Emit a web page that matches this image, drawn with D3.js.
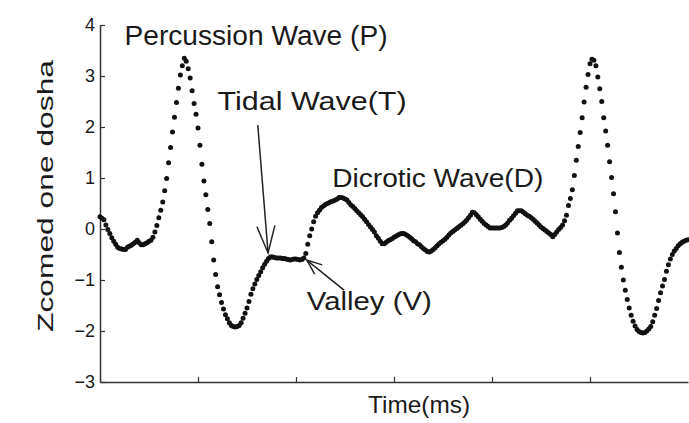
<!DOCTYPE html>
<html>
<head>
<meta charset="utf-8">
<script src="https://cdn.jsdelivr.net/npm/d3@7"></script>
<style>
  body { margin: 0; background: #fff; }
  svg { display: block; }
  text { font-family: "Liberation Sans", Arial, sans-serif; fill: #1a1a1a; }
</style>
</head>
<body>
<div id="chart"></div>
<script>
// sampled pulse, one value every 2 ms
const sampleMs = 2;
const pulse = [
  0.24, 0.21, 0.18, 0.08, -0.01, -0.09, -0.17, -0.24, -0.30, -0.36,
  -0.38, -0.39, -0.40, -0.40, -0.36, -0.34, -0.32, -0.29, -0.26, -0.22,
  -0.27, -0.31, -0.31, -0.29, -0.27, -0.24, -0.22, -0.16, -0.06, 0.07,
  0.22, 0.37, 0.53, 0.75, 0.99, 1.30, 1.60, 1.90, 2.19, 2.48,
  2.76, 3.02, 3.20, 3.35, 3.29, 3.14, 2.96, 2.71, 2.46, 2.25,
  1.98, 1.64, 1.27, 0.94, 0.67, 0.38, 0.11, -0.25, -0.61, -0.89,
  -1.13, -1.29, -1.44, -1.57, -1.68, -1.76, -1.84, -1.89, -1.91, -1.92,
  -1.91, -1.89, -1.84, -1.75, -1.65, -1.55, -1.42, -1.28, -1.17, -1.08,
  -0.99, -0.91, -0.84, -0.76, -0.69, -0.63, -0.58, -0.55, -0.55, -0.56,
  -0.57, -0.57, -0.57, -0.58, -0.58, -0.59, -0.60, -0.61, -0.60, -0.59,
  -0.59, -0.60, -0.61, -0.60, -0.57, -0.48, -0.30, -0.13, 0.00, 0.14,
  0.25, 0.32, 0.37, 0.42, 0.45, 0.48, 0.50, 0.52, 0.54, 0.55,
  0.57, 0.59, 0.62, 0.62, 0.61, 0.59, 0.57, 0.52, 0.47, 0.44,
  0.40, 0.36, 0.32, 0.28, 0.24, 0.19, 0.14, 0.09, 0.04, -0.01,
  -0.06, -0.13, -0.18, -0.24, -0.29, -0.29, -0.26, -0.23, -0.21, -0.19,
  -0.16, -0.14, -0.12, -0.10, -0.09, -0.09, -0.11, -0.13, -0.16, -0.19,
  -0.23, -0.25, -0.29, -0.31, -0.35, -0.38, -0.41, -0.44, -0.45, -0.43,
  -0.40, -0.37, -0.33, -0.29, -0.26, -0.23, -0.20, -0.16, -0.12, -0.08,
  -0.05, -0.02, 0.01, 0.04, 0.07, 0.10, 0.13, 0.17, 0.22, 0.27,
  0.33, 0.32, 0.28, 0.24, 0.19, 0.15, 0.11, 0.08, 0.05, 0.02,
  0.02, 0.02, 0.02, 0.02, 0.02, 0.03, 0.05, 0.08, 0.12, 0.17,
  0.21, 0.26, 0.31, 0.36, 0.36, 0.36, 0.33, 0.30, 0.27, 0.25,
  0.22, 0.19, 0.15, 0.12, 0.08, 0.04, 0.01, -0.02, -0.05, -0.08,
  -0.11, -0.15, -0.11, -0.06, -0.01, 0.03, 0.08, 0.16, 0.27, 0.46,
  0.60, 0.77, 1.05, 1.35, 1.62, 1.89, 2.18, 2.49, 2.78, 3.03,
  3.24, 3.33, 3.31, 3.20, 2.98, 2.75, 2.50, 2.18, 1.92, 1.64,
  1.32, 1.01, 0.69, 0.34, -0.08, -0.46, -0.75, -1.00, -1.20, -1.38,
  -1.55, -1.69, -1.81, -1.90, -1.97, -2.01, -2.03, -2.04, -2.03, -2.00,
  -1.96, -1.91, -1.82, -1.69, -1.56, -1.40, -1.25, -1.12, -0.99, -0.83,
  -0.70, -0.59, -0.50, -0.43, -0.38, -0.33, -0.29, -0.26, -0.24, -0.22,
  -0.21
];
const yTicks = [-3, -2, -1, 0, 1, 2, 3, 4];
const xTicks = [0, 100, 200, 300, 400, 500, 600];

// annotation anchors in data units (ms, value)
const notes = [
  { text: 'Percussion Wave (P)', t: 25, v: 3.61 },
  { text: 'Tidal Wave(T)', t: 120, v: 2.33 },
  { text: 'Dicrotic Wave(D)', t: 237, v: 0.82 },
  { text: 'Valley (V)', t: 211, v: -1.59 }
];
const arrows = [
  { name: 'tidal', from: [161, 2.04], to: [171.5, -0.47] },
  { name: 'valley', from: [249, -1.20], to: [211, -0.61] }
];

const width = 689, height = 423;
const svg = d3.select('#chart').append('svg')
    .attr('width', width)
    .attr('height', height);

const x = d3.scaleLinear().domain([0, 600]).range([100, 688]);
const y = d3.scaleLinear().domain([-3, 4]).range([382, 25]);

// axes
const yAxis = svg.append('g')
    .attr('transform', `translate(${x(0)},0)`)
    .call(d3.axisLeft(y).tickValues(yTicks).tickFormat(d3.format('d'))
        .tickSizeInner(-5).tickSizeOuter(0).tickPadding(5));
const xAxis = svg.append('g')
    .attr('transform', `translate(0,${y(-3)})`)
    .call(d3.axisBottom(x).tickValues(xTicks).tickFormat('')
        .tickSizeInner(-5).tickSizeOuter(0));

[yAxis, xAxis].forEach(a => {
    a.select('.domain').attr('stroke', '#333').attr('stroke-width', 1.5);
    a.selectAll('.tick line').attr('stroke', '#333').attr('stroke-width', 1.2);
});
yAxis.selectAll('.tick text')
    .style('font-family', '"Liberation Sans", Arial, sans-serif')
    .style('font-size', '18px')
    .attr('fill', '#1a1a1a');
xAxis.selectAll('.tick').filter(d => d === 0 || d === 600).select('line').remove();

// axis titles
svg.append('text')
    .attr('transform', 'translate(53,196) rotate(-90)')
    .attr('text-anchor', 'middle')
    .attr('font-size', 22)
    .attr('textLength', 272)
    .attr('lengthAdjust', 'spacingAndGlyphs')
    .text('Zcomed one dosha');

svg.append('text')
    .attr('x', 419)
    .attr('y', 413)
    .attr('text-anchor', 'middle')
    .attr('font-size', 24)
    .attr('textLength', 102)
    .attr('lengthAdjust', 'spacingAndGlyphs')
    .text('Time(ms)');

// the waveform, drawn as sample dots
svg.append('g')
    .selectAll('circle')
    .data(pulse)
    .join('circle')
    .attr('cx', (d, i) => x(i * sampleMs))
    .attr('cy', d => y(d))
    .attr('r', 2.5)
    .attr('fill', '#111');

// annotation text
const noteStyle = {
    'Percussion Wave (P)': { size: 27, len: 263 },
    'Tidal Wave(T)': { size: 26, len: 189 },
    'Dicrotic Wave(D)': { size: 26, len: 211 },
    'Valley (V)': { size: 26, len: 125 }
};
svg.append('g')
    .selectAll('text')
    .data(notes)
    .join('text')
    .attr('x', d => x(d.t))
    .attr('y', d => y(d.v))
    .attr('font-size', d => noteStyle[d.text].size)
    .attr('textLength', d => noteStyle[d.text].len)
    .attr('lengthAdjust', 'spacingAndGlyphs')
    .text(d => d.text);

// arrows with open heads
const headStyle = { tidal: { len: 27, half: 9 }, valley: { len: 15, half: 6 } };
const ag = svg.append('g')
    .attr('stroke', '#222')
    .attr('stroke-width', 1.5)
    .attr('fill', 'none');
arrows.forEach(a => {
    const x1 = x(a.from[0]), y1 = y(a.from[1]);
    const x2 = x(a.to[0]), y2 = y(a.to[1]);
    ag.append('line')
        .attr('x1', x1).attr('y1', y1)
        .attr('x2', x2).attr('y2', y2);
    const ang = Math.atan2(y2 - y1, x2 - x1);
    const h = headStyle[a.name];
    const bx = x2 - h.len * Math.cos(ang), by = y2 - h.len * Math.sin(ang);
    const px = -Math.sin(ang) * h.half, py = Math.cos(ang) * h.half;
    ag.append('path')
        .attr('d', `M${bx + px},${by + py}L${x2},${y2}L${bx - px},${by - py}`);
});
</script>
</body>
</html>
